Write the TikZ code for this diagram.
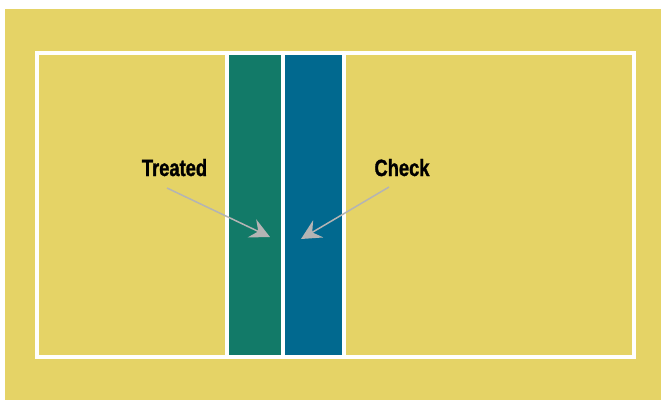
\documentclass[tikz,border=0pt]{standalone}
\usepackage{fontspec}
\newfontfamily\labelfont{Liberation Sans}[BoldFont={Liberation Sans Bold}, FakeStretch=0.78, BoldFeatures={FakeBold=1.2}]
\usetikzlibrary{arrows.meta}
\definecolor{fieldyellow}{HTML}{E5D366}
\definecolor{treatgreen}{HTML}{127A68}
\definecolor{checkblue}{HTML}{01698F}
\definecolor{arrowgray}{HTML}{B4B4B4}

\begin{document}
\begin{tikzpicture}[x=1pt, y=-1pt,
    plotlabel/.style={font=\labelfont\bfseries\fontsize{23.5}{28}\selectfont, anchor=base, inner sep=0pt},
    pointer/.style={draw=arrowgray, line width=1.5pt, -{Stealth[length=20pt, width=20pt, inset=7pt]}}]
    % Canvas and field
    \useasboundingbox (0,0) rectangle (661,400);
    \fill[white] (0,0) rectangle (661,400);
    \fill[fieldyellow] (5,9) rectangle (661,400);

    % Plot strips
    \fill[treatgreen] (229,54) rectangle (281,355);
    \fill[checkblue] (285,54) rectangle (342,355);

    % White plot borders
    \draw[white, line width=4pt] (37,52.5) rectangle (634,357);
    \foreach \x in {227, 283, 344}
        \draw[white, line width=4pt] (\x,52.5) -- (\x,357);

    % Labels
    \node[plotlabel] (treated) at (174.5,176) {Treated};
    \node[plotlabel] (check) at (402,176) {Check};
    \coordinate (treatedtail) at (167,188);
    \coordinate (treatedtip) at (270,237);
    \coordinate (checktail) at (389,187);
    \coordinate (checktip) at (301,239);

    % Pointers into the strips
    \draw[pointer] (treatedtail) -- (treatedtip);
    \draw[pointer] (checktail) -- (checktip);
\end{tikzpicture}
\end{document}
